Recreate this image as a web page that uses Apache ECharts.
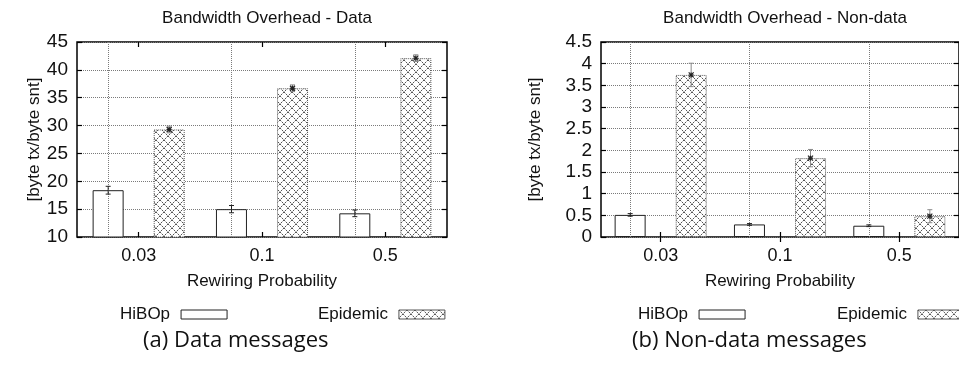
<!DOCTYPE html>
<html>
<head>
<meta charset="utf-8">
<title>Bandwidth Overhead</title>
<script src="https://cdn.jsdelivr.net/npm/echarts@6/dist/echarts.min.js"></script>
<style>
  html, body { margin: 0; padding: 0; background: #fff; }
  #chart { width: 959px; height: 365px; }
</style>
</head>
<body>
<div id="chart"></div>
<script>
// Rewiring probabilities on the x axis
const categories = ['0.03', '0.1', '0.5'];

// (a) Data messages: mean overhead and error half-widths
const dataHiBOp = [18.4, 15.0, 14.25];
const dataHiBOpErr = [0.7, 0.65, 0.6];
const dataEpidemic = [29.3, 36.7, 42.1];
const dataEpidemicErr = [0.6, 0.6, 0.6];

// (b) Non-data messages: mean overhead and error half-widths
const nonDataHiBOp = [0.51, 0.29, 0.26];
const nonDataHiBOpErr = [0.03, 0.02, 0.02];
const nonDataEpidemic = [3.74, 1.82, 0.48];
const nonDataEpidemicErr = [0.27, 0.2, 0.15];

// Value axis ranges
const dataAxis = { min: 10, max: 45, interval: 5 };
const nonDataAxis = { min: 0, max: 4.5, interval: 0.5 };

const FONT = '"Liberation Sans", Arial, Helvetica, sans-serif';
const INK = '#111';

// Dotted cross-hatch fill used for the Epidemic bars
function makeHatch() {
  const c = document.createElement('canvas');
  c.width = 8; c.height = 8;
  const g = c.getContext('2d');
  g.fillStyle = '#fff';
  g.fillRect(0, 0, 8, 8);
  for (let i = 0; i < 8; i++) {
    g.fillStyle = i % 2 === 0 ? '#555' : '#bdbdbd';
    g.fillRect(i, i, 1, 1);
    g.fillRect(7 - i, i, 1, 1);
  }
  return c;
}
const hatch = { image: makeHatch(), repeat: 'repeat' };

const hiStyle = { color: '#fff', borderColor: '#222', borderWidth: 1 };
const epiStyle = { color: hatch, borderColor: '#555', borderWidth: 1, borderType: 'dotted' };

function errorBars(values, errs, axisIdx, offset, color, withStar) {
  return {
    type: 'custom',
    xAxisIndex: axisIdx,
    yAxisIndex: axisIdx,
    z: 6,
    silent: true,
    data: values.map((v, i) => [i, v - errs[i], v + errs[i], v]),
    renderItem(params, api) {
      const lo = api.coord([api.value(0), api.value(1)]);
      const hi = api.coord([api.value(0), api.value(2)]);
      const mid = api.coord([api.value(0), api.value(3)]);
      const x = lo[0] + offset;
      const cap = 2.5;
      const st = { stroke: color, lineWidth: 1 };
      const children = [
        { type: 'line', shape: { x1: x, y1: lo[1], x2: x, y2: hi[1] }, style: st },
        { type: 'line', shape: { x1: x - cap, y1: lo[1], x2: x + cap, y2: lo[1] }, style: st },
        { type: 'line', shape: { x1: x - cap, y1: hi[1], x2: x + cap, y2: hi[1] }, style: st }
      ];
      if (withStar) {
        const r = 2.5, y = mid[1];
        const s = { stroke: '#222', lineWidth: 1.2 };
        children.push(
          { type: 'line', shape: { x1: x - r, y1: y - r, x2: x + r, y2: y + r }, style: s },
          { type: 'line', shape: { x1: x - r, y1: y + r, x2: x + r, y2: y - r }, style: s },
          { type: 'line', shape: { x1: x - r, y1: y, x2: x + r, y2: y }, style: s },
          { type: 'line', shape: { x1: x, y1: y - r, x2: x, y2: y + r }, style: s }
        );
      }
      return { type: 'group', children };
    }
  };
}

const tickStyle = { show: true, inside: true, length: 5, lineStyle: { color: '#000', width: 1.2 } };
const gridDots = { show: true, lineStyle: { color: '#7a7a7a', type: 'dotted', width: 1 } };

function xAxes(gridIndex) {
  return [
    {
      type: 'category', gridIndex, data: categories, position: 'bottom',
      axisLine: { show: false },
      axisTick: Object.assign({ alignWithLabel: true }, tickStyle),
      axisLabel: { color: INK, fontFamily: FONT, fontSize: 18, margin: 10 },
      name: 'Rewiring Probability', nameLocation: 'middle', nameGap: 36,
      nameTextStyle: { color: INK, fontFamily: FONT, fontSize: 17 }
    },
    {
      type: 'category', gridIndex, data: categories, position: 'top',
      axisLine: { show: false },
      axisTick: Object.assign({ alignWithLabel: true }, tickStyle),
      axisLabel: { show: false }
    }
  ];
}

function yAxes(gridIndex, range, nameGap) {
  return [
    {
      type: 'value', gridIndex, position: 'left',
      min: range.min, max: range.max, interval: range.interval,
      axisLine: { show: false }, axisTick: tickStyle,
      axisLabel: { color: INK, fontFamily: FONT, fontSize: 19, margin: 9 },
      splitLine: gridDots,
      name: '[byte tx/byte snt]', nameLocation: 'middle', nameGap,
      nameTextStyle: { color: INK, fontFamily: FONT, fontSize: 17 }
    },
    {
      type: 'value', gridIndex, position: 'right',
      min: range.min, max: range.max, interval: range.interval,
      axisLine: { show: false }, axisTick: tickStyle,
      axisLabel: { show: false }, splitLine: { show: false }
    }
  ];
}

function centreLines() {
  return {
    silent: true, symbol: 'none', label: { show: false },
    lineStyle: { color: '#7a7a7a', type: 'dotted', width: 1 },
    emphasis: { disabled: true },
    data: categories.map(c => ({ xAxis: c }))
  };
}

function barPair(hi, epi, axisIdx) {
  return [
    {
      name: 'HiBOp', type: 'bar', xAxisIndex: axisIdx, yAxisIndex: axisIdx,
      data: hi, barWidth: 31, barGap: '97%', itemStyle: hiStyle,
      emphasis: { disabled: true }, markLine: centreLines()
    },
    {
      name: 'Epidemic', type: 'bar', xAxisIndex: axisIdx, yAxisIndex: axisIdx,
      data: epi, barWidth: 31, barGap: '97%', itemStyle: epiStyle,
      emphasis: { disabled: true }
    }
  ];
}

// One legend entry per component, text before its swatch
function legendItem(name, left) {
  return {
    left, top: 301, orient: 'horizontal', align: 'right',
    itemWidth: 46, itemHeight: 9, icon: 'rect',
    selectedMode: false,
    itemStyle: { borderWidth: 1 },
    textStyle: { color: INK, fontFamily: FONT, fontSize: 17, padding: [0, 6, 0, 0] },
    data: [name]
  };
}

const titleStyle = { color: INK, fontFamily: FONT, fontSize: 17, fontWeight: 'normal' };
const captionFont = '22px "Open Sans", "Noto Sans", sans-serif';

const option = {
  animation: false,
  backgroundColor: '#fff',
  title: [
    { text: 'Bandwidth Overhead - Data', left: 262, top: 5, textAlign: 'center', textStyle: titleStyle },
    { text: 'Bandwidth Overhead - Non-data', left: 780, top: 5, textAlign: 'center', textStyle: titleStyle }
  ],
  grid: [
    { left: 77, top: 42, width: 370, height: 195, show: true, borderColor: '#000', borderWidth: 1.5, backgroundColor: 'transparent' },
    { left: 601, top: 42, width: 358.5, height: 195, show: true, borderColor: '#000', borderWidth: 1.5, backgroundColor: 'transparent' }
  ],
  xAxis: [...xAxes(0), ...xAxes(1)],
  yAxis: [...yAxes(0, dataAxis, 31), ...yAxes(1, nonDataAxis, 57)],
  legend: [
    legendItem('HiBOp', 115), legendItem('Epidemic', 313),
    legendItem('HiBOp', 633), legendItem('Epidemic', 832)
  ],
  series: [
    ...barPair(dataHiBOp, dataEpidemic, 0),
    errorBars(dataHiBOp, dataHiBOpErr, 0, -30.5, '#222', false),
    errorBars(dataEpidemic, dataEpidemicErr, 0, 30.5, '#8a8a8a', true),
    ...barPair(nonDataHiBOp, nonDataEpidemic, 2),
    errorBars(nonDataHiBOp, nonDataHiBOpErr, 2, -30.5, '#222', false),
    errorBars(nonDataEpidemic, nonDataEpidemicErr, 2, 30.5, '#8a8a8a', true)
  ],
  graphic: [
    { type: 'text', left: 143, top: 330, style: { text: '(a) Data messages', fill: INK, font: captionFont } },
    { type: 'text', left: 632, top: 330, style: { text: '(b) Non-data messages', fill: INK, font: captionFont } }
  ]
};

const chart = echarts.init(document.getElementById('chart'), null, { renderer: 'canvas' });
chart.setOption(option);
</script>
</body>
</html>
